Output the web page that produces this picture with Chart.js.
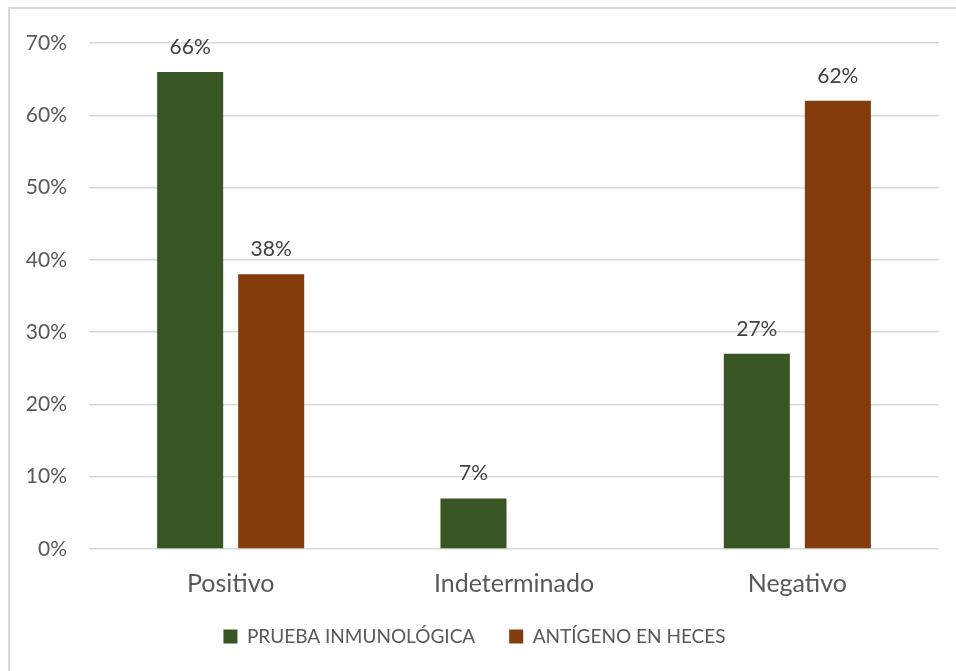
<!DOCTYPE html>
<html>
<head>
<meta charset="utf-8">
<script src="https://cdn.jsdelivr.net/npm/chart.js@4/dist/chart.umd.min.js"></script>
<style>
  html, body { margin: 0; padding: 0; background: #ffffff; }
  #wrap { position: relative; width: 956px; height: 671px; }
  #frame {
    position: absolute; left: 8px; top: 7px; right: 0; bottom: 0;
    border-top: 2px solid #d9d9d9; border-left: 2px solid #d9d9d9;
    pointer-events: none;
  }
  canvas { position: absolute; left: 0; top: 0; }
</style>
</head>
<body>
<div id="wrap">
  <canvas id="chart" width="956" height="671"></canvas>
  <div id="frame"></div>
</div>
<script>
// Resultado de cada prueba por categoría (en %)
const categorias = ['Positivo', 'Indeterminado', 'Negativo'];
const pruebaInmunologica = [66, 7, 27];
const antigenoEnHeces = [38, 0, 62];
const ticksY = [0, 10, 20, 30, 40, 50, 60, 70];

const FONT = 'Lato, "Open Sans", "Liberation Sans", sans-serif';

// Etiquetas de valor encima de cada barra
const etiquetasValor = {
  id: 'etiquetasValor',
  afterDatasetsDraw(chart) {
    const ctx = chart.ctx;
    ctx.save();
    ctx.font = '21px ' + FONT;
    ctx.fillStyle = '#404040';
    ctx.textAlign = 'center';
    ctx.textBaseline = 'middle';
    chart.data.datasets.forEach((ds, i) => {
      const meta = chart.getDatasetMeta(i);
      meta.data.forEach((bar, j) => {
        const v = ds.data[j];
        if (!v) return;
        ctx.fillText(v + '%', bar.x, bar.y - 25);
      });
    });
    ctx.restore();
  }
};

new Chart(document.getElementById('chart'), {
  type: 'bar',
  data: {
    labels: categorias,
    datasets: [
      { label: 'PRUEBA INMUNOLÓGICA', data: pruebaInmunologica, backgroundColor: '#375623' },
      { label: 'ANTÍGENO EN HECES', data: antigenoEnHeces, backgroundColor: '#843C0C' }
    ]
  },
  options: {
    responsive: false,
    animation: false,
    categoryPercentage: 0.572,
    barPercentage: 0.815,
    layout: { padding: { left: 10, top: 43, right: 17, bottom: 15 } },
    plugins: {
      tooltip: { enabled: false },
      legend: {
        position: 'bottom',
        labels: {
          font: { family: FONT, size: 19 },
          color: '#595959',
          boxWidth: 14,
          boxHeight: 14,
          padding: 34
        }
      }
    },
    scales: {
      x: {
        grid: { display: false },
        border: { display: false },
        ticks: { font: { family: FONT, size: 25 }, color: '#595959', padding: 12 },
        afterFit(scale) {
          scale.height = 44;
          // las etiquetas de categoría pueden sobresalir de la caja del eje
          scale._computeLabelArea = () => undefined;
        }
      },
      y: {
        min: 0,
        max: 70,
        afterBuildTicks(scale) { scale.ticks = ticksY.map(v => ({ value: v })); },
        grid: { color: '#d9d9d9', lineWidth: 1.5, drawTicks: false },
        border: { display: false },
        ticks: {
          font: { family: FONT, size: 21 },
          color: '#595959',
          padding: 22,
          callback: v => v + '%'
        },
        afterFit(scale) { scale.width = 79; }
      }
    }
  },
  plugins: [etiquetasValor]
});
</script>
</body>
</html>
